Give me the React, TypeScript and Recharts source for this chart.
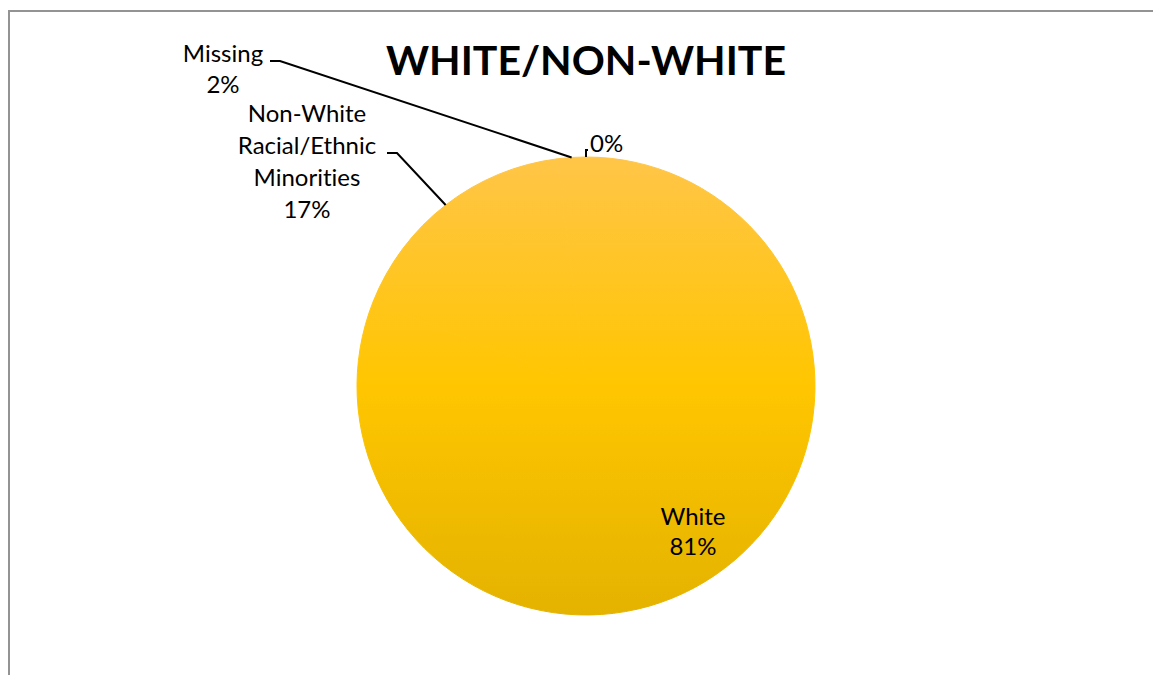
import React from 'react';
import { PieChart, Pie, Cell } from 'recharts';

const categories = ['White', 'Non-White Racial/Ethnic Minorities', 'Missing', ''];
const values = [81, 17, 2, 0];
const labelNameLines = [['White'], ['Non-White', 'Racial/Ethnic', 'Minorities'], ['Missing'], []];
const title = 'WHITE/NON-WHITE';

const data = categories.map((name, i) => ({ name, value: values[i], idx: i }));

const W = 1153;
const H = 675;
const CX = 586;
const CY = 386;
const R = 229;
const RAD = Math.PI / 180;
const FONT = 'Lato, "Open Sans", sans-serif';
const NOLIG = { fontVariantLigatures: 'none', fontFeatureSettings: '"liga" 0' } as React.CSSProperties;

type Layout = {
  x: number;
  y: number;
  anchor: 'start' | 'middle' | 'end';
  lh: number;
  path?: number[][];
};

// label placement (layout only)
const labelLayout: Layout[] = [
  { x: 693, y: 525, anchor: 'middle', lh: 30 },
  { x: 307, y: 122, anchor: 'middle', lh: 32, path: [[397, 153], [387, 153]] },
  { x: 223, y: 62, anchor: 'middle', lh: 31, path: [[280, 61], [270, 61]] },
  { x: 590, y: 152, anchor: 'start', lh: 31, path: [[586, 150], [588, 150]] },
];

const renderLabel = (props: any) => {
  const { cx, cy, midAngle, outerRadius, percent, index } = props;
  const lay = labelLayout[index];
  if (!lay) return null;
  const lines = [...labelNameLines[index], `${Math.round(percent * 100)}%`];
  const ax = cx + outerRadius * Math.cos(-midAngle * RAD);
  const ay = cy + outerRadius * Math.sin(-midAngle * RAD);
  let line = null;
  if (lay.path) {
    const pts = [[ax, ay], ...lay.path].map((p) => p.join(',')).join(' ');
    line = <polyline points={pts} fill="none" stroke="#000" strokeWidth={2} />;
  }
  return (
    <g key={`lab-${index}`}>
      {line}
      <text
        x={lay.x}
        y={lay.y}
        textAnchor={lay.anchor}
        fontFamily={FONT}
        fontSize={24}
        fill="#000"
        style={NOLIG}
      >
        {lines.map((t, i) => (
          <tspan key={i} x={lay.x} dy={i === 0 ? 0 : lay.lh}>
            {t}
          </tspan>
        ))}
      </text>
    </g>
  );
};

export default function App() {
  return (
    <div style={{ position: 'absolute', left: 0, top: 0, width: W, height: H, background: '#fff', overflow: 'hidden' }}>
      <div
        style={{
          position: 'absolute',
          left: 8,
          top: 10,
          width: W,
          height: H,
          borderTop: '2px solid #939393',
          borderLeft: '2px solid #939393',
          boxSizing: 'border-box',
        }}
      />
      <div style={{ position: 'absolute', left: 0, top: 0 }}>
        <PieChart width={W} height={H} margin={{ top: 0, right: 0, bottom: 0, left: 0 }}>
          <defs>
            <linearGradient id="pieGrad" gradientUnits="userSpaceOnUse" x1={0} y1={CY - R} x2={0} y2={CY + R}>
              <stop offset="0" stopColor="#FFC548" />
              <stop offset="0.5" stopColor="#FFC600" />
              <stop offset="1" stopColor="#E4B300" />
            </linearGradient>
          </defs>
          <text x={CX} y={75} textAnchor="middle" fontFamily={FONT} fontWeight="bold" fontSize={41} fill="#000" style={NOLIG}>
            {title}
          </text>
          <Pie
            data={data}
            dataKey="value"
            nameKey="name"
            cx={CX}
            cy={CY}
            outerRadius={R}
            startAngle={90}
            endAngle={-270}
            stroke="url(#pieGrad)"
            strokeWidth={1}
            label={renderLabel}
            labelLine={false}
            isAnimationActive={false}
          >
            {data.map((d) => (
              <Cell key={d.idx} fill="url(#pieGrad)" stroke="url(#pieGrad)" strokeWidth={1} />
            ))}
          </Pie>
        </PieChart>
      </div>
    </div>
  );
}
